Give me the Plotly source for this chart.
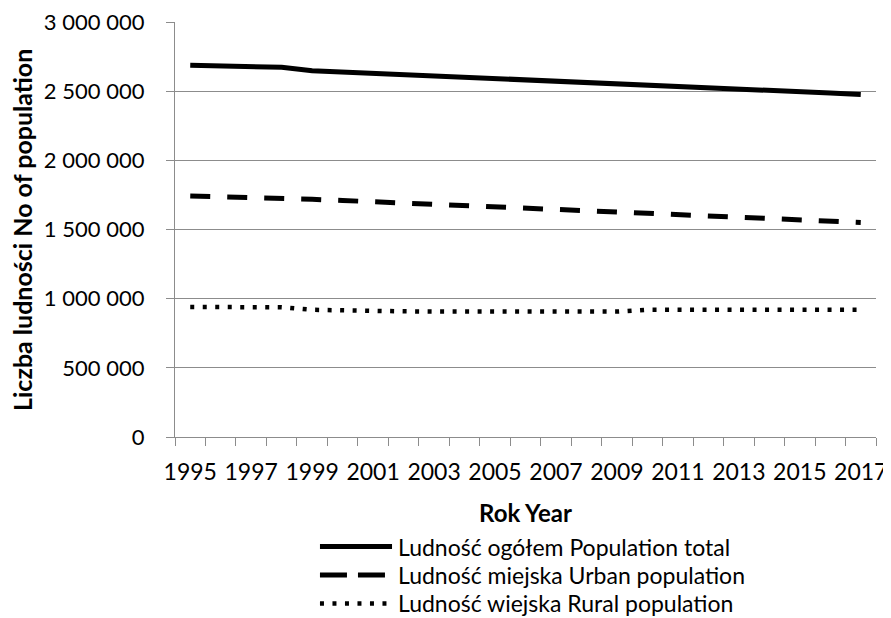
import plotly.graph_objects as go

years = list(range(1995, 2018))
total = [2689000, 2685000, 2680000, 2674000, 2650000, 2641000, 2632000, 2623000,
         2613000, 2602000, 2590000, 2580000, 2570000, 2562000, 2556000, 2550000,
         2542000, 2532000, 2522000, 2512000, 2500000, 2488000, 2477000]
urban = [1743000, 1739000, 1735000, 1730000, 1719000, 1711000, 1703000, 1695000,
         1687000, 1676000, 1665000, 1656000, 1646000, 1637000, 1628000, 1620000,
         1613000, 1603000, 1592000, 1581000, 1571000, 1561000, 1552000]
rural = [940000, 941000, 940000, 939000, 920000, 914000, 911000, 909000,
         908000, 907000, 907000, 906000, 906000, 906000, 907000, 921000,
         921000, 921000, 921000, 921000, 920000, 920000, 920000]

series_names = ["Ludność ogółem Population total",
                "Ludność miejska Urban population",
                "Ludność wiejska Rural population"]
ytick_vals = [0, 500000, 1000000, 1500000, 2000000, 2500000, 3000000]
ytick_text = ["0", "500 000", "1 000 000", "1 500 000", "2 000 000", "2 500 000", "3 000 000"]
xtick_years = years[::2]
x_title = "Rok Year"
y_title = "Liczba ludności No of population"

FONT = "Lato"
GRID = "#8c8c8c"
dashes = ["solid", "20px,17px", "4px,8.5px"]
widths = [5, 5, 4.5]

fig = go.Figure()
for vals, name, d, w in zip([total, urban, rural], series_names, dashes, widths):
    fig.add_trace(go.Scatter(x=years, y=vals, mode="lines", name=name,
                             line=dict(color="black", width=w, dash=d),
                             showlegend=False))

# page body adds an 8px offset, so the figure is 8px smaller than the window
fig.update_layout(
    width=883, height=610,
    margin=dict(l=167, r=15, t=14, b=181, autoexpand=False),
    paper_bgcolor="white", plot_bgcolor="white",
    font=dict(family=FONT, size=22, color="black"),
)
fig.update_xaxes(
    range=[1994.5, 2017.5], tickmode="array", tickvals=xtick_years,
    ticktext=[str(y) for y in xtick_years], ticks="", showgrid=False,
    zeroline=False, showline=True, linecolor=GRID, linewidth=1.3,
    ticklabelstandoff=14, automargin=False, tickfont=dict(size=23),
    minor=dict(tickmode="linear", tick0=1994.5, dtick=1, ticks="outside",
               ticklen=8, tickcolor=GRID, tickwidth=1.3, showgrid=False),
)
fig.update_yaxes(
    range=[0, 3002000], tickmode="array", tickvals=ytick_vals, ticktext=ytick_text,
    ticks="outside", ticklen=8, tickcolor=GRID, tickwidth=1.3,
    showgrid=True, gridcolor=GRID, gridwidth=1.3, zeroline=False,
    showline=True, linecolor=GRID, linewidth=1.3, ticklabelstandoff=17,
    automargin=False, ticklabeloverflow="allow",
)

# axis titles
fig.add_annotation(text="<b>" + x_title + "</b>", xref="paper", yref="paper",
                   x=0.5, y=-0.183, showarrow=False, font=dict(size=24),
                   xanchor="center", yanchor="middle")
fig.add_annotation(text="<b>" + y_title + "</b>", xref="paper", yref="paper",
                   x=-0.219, y=0.5, showarrow=False, font=dict(size=25),
                   textangle=-90, xanchor="center", yanchor="middle")

# legend drawn manually (long samples like the original)
leg_y = [-0.2639, -0.3325, -0.4012]
for name, d, w, ly in zip(series_names, dashes, widths, leg_y):
    ld = d if d != "20px,17px" else "27px,11px"
    fig.add_shape(type="line", xref="paper", yref="paper", x0=0.2068, x1=0.3096,
                  y0=ly, y1=ly, line=dict(color="black", width=w, dash=ld))
    fig.add_annotation(text=name, xref="paper", yref="paper", x=0.3167, y=ly,
                       showarrow=False, xanchor="left", yanchor="middle",
                       borderpad=0, font=dict(size=23))

fig.write_html("out.html")
